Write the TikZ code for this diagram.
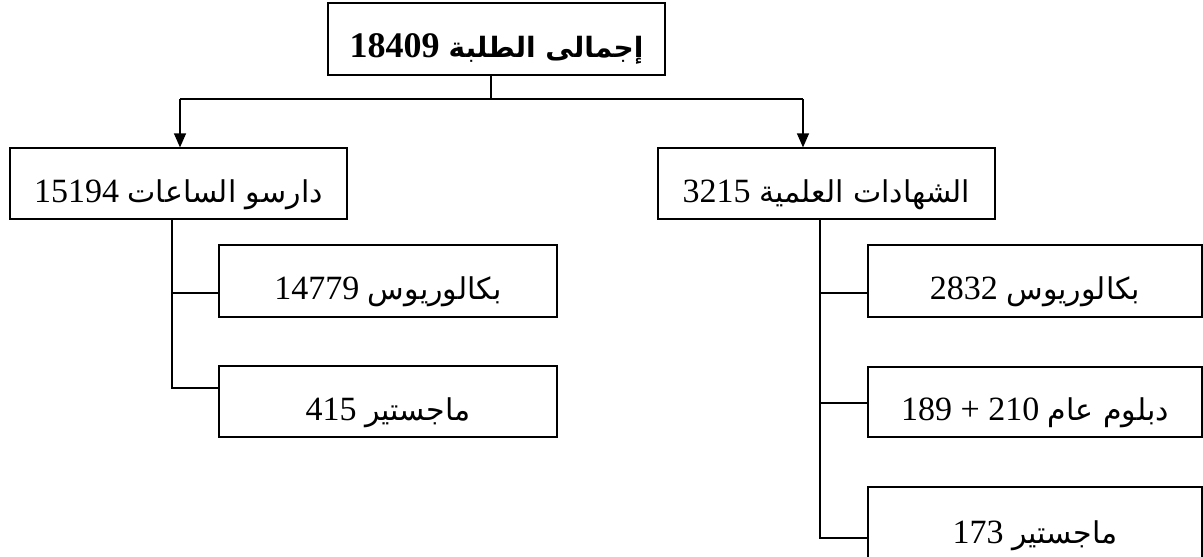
\documentclass[tikz,border=0pt]{standalone}
\usepackage{fontspec}
\setmainfont{Liberation Serif}
\newfontfamily\arabicfont[Script=Arabic]{DejaVu Sans}
\TeXXeTstate=1
\usetikzlibrary{arrows.meta}
\newcommand{\ara}[1]{{\arabicfont\fontsize{30}{34}\selectfont\beginR #1\endR}}
\begin{document}
\begin{tikzpicture}[x=1pt,y=-1pt,
  box/.style={draw, line width=1.2pt, inner sep=0pt, minimum width=337pt, minimum height=71pt,
    text height=40pt, text depth=3pt, font=\fontsize{34}{40}\selectfont},
  conn/.style={line width=1.2pt},
  arr/.style={line width=1.2pt, -{Triangle[length=14pt,width=12pt]}}]
\useasboundingbox (0,0) rectangle (1203,557);
\node[box, minimum height=72pt, font=\bfseries\fontsize{36}{42}\selectfont] (root) at (496.5,39)
  {18409\ {\arabicfont\bfseries\fontsize{28}{34}\selectfont\beginR إجمالى الطلبة\endR}};
\node[box] (L) at (178.5,183.5) {15194\ \ara{دارسو الساعات}};
\node[box] (R) at (826.5,183.5) {3215\ \ara{الشهادات العلمية}};
\node[box, minimum width=338pt, minimum height=72pt] (L1) at (388,281) {14779\ \ara{بكالوريوس}};
\node[box, minimum width=338pt] (L2) at (388,401.5) {415\ \ara{ماجستير}};
\node[box, minimum width=334pt, minimum height=72pt] (R1) at (1035,281) {2832\ \ara{بكالوريوس}};
\node[box, minimum width=334pt, minimum height=70pt] (R2) at (1035,402) {189 + 210\ \ara{دبلوم عام}};
\node[box, minimum width=334pt, minimum height=75pt] (R3) at (1035,524.5) {173\ \ara{ماجستير}};
% top connectors
\coordinate (hj) at (491,99);
\coordinate (jl) at (180,99);
\coordinate (jr) at (803,99);
\draw[conn] (root.south -| hj) -- (hj);
\draw[conn] (jl) -- (jr);
\draw[arr] (jl) -- (jl |- L.north);
\draw[arr] (jr) -- (jr |- R.north);
% left branch
\coordinate (lv) at (172,0);
\coordinate (t1) at (219,293);
\coordinate (t2) at (219,388);
\draw[conn] (L.south -| lv) -- (lv |- t2) -- (t2);
\draw[conn] (lv |- t1) -- (t1);
% right branch
\coordinate (rv) at (820,0);
\coordinate (u1) at (868,293);
\coordinate (u2) at (868,403);
\coordinate (u3) at (868,538);
\draw[conn] (R.south -| rv) -- (rv |- u3) -- (u3);
\draw[conn] (rv |- u1) -- (u1);
\draw[conn] (rv |- u2) -- (u2);
\end{tikzpicture}
\end{document}
